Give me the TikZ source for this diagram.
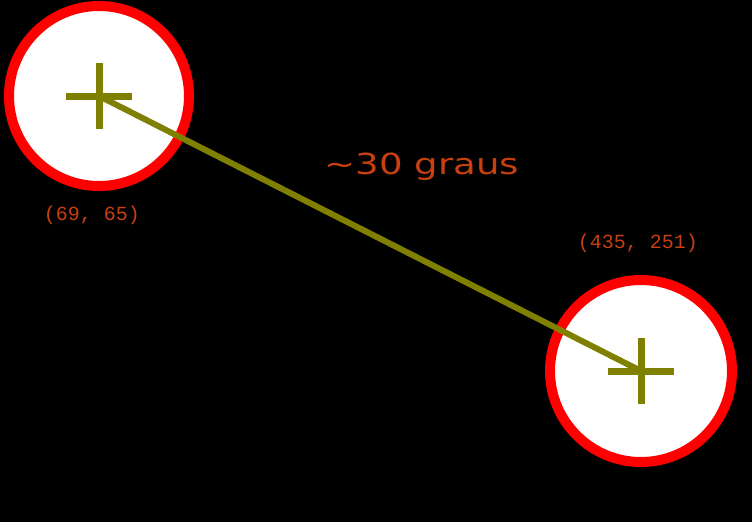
\documentclass[tikz,border=0pt]{standalone}
\usepackage{fontspec}
\setmainfont{DejaVu Sans}
\newfontfamily\coordfont{Liberation Mono}
\newfontfamily\anglefont[FakeStretch=1.28]{DejaVu Sans}
\usetikzlibrary{positioning}
\definecolor{RingRed}{RGB}{255,0,0}
\definecolor{Olive}{RGB}{128,128,0}
\definecolor{LabelRust}{RGB}{200,64,16}

\begin{document}
\begin{tikzpicture}[
  x=1pt, y=-1pt,
  blob/.style={circle,draw=RingRed,fill=white,line width=10pt,
               minimum size=180pt,inner sep=0pt},
  link/.style={draw=Olive,line width=6pt},
  crossarm/.style={draw=Olive,line width=7pt},
  coordlabel/.style={font=\coordfont\fontsize{20}{20}\selectfont,
                     text=LabelRust,inner sep=0pt},
  anglelabel/.style={font=\anglefont\fontsize{29}{29}\selectfont,text=LabelRust,
                     inner sep=0pt}]

\fill[black] (0,0) rectangle (752,522);
\useasboundingbox (0,0) rectangle (752,522);

\node[blob] (a) at (99,96) {};
\node[blob,minimum size=182pt] (b) at (641,371) {};

\draw[link] (a.center) -- (b.center);

\draw[crossarm] ([xshift=-33pt]a.center) -- ([xshift=33pt]a.center);
\draw[crossarm] ([yshift=-33pt]a.center) -- ([yshift=33pt]a.center);
\draw[crossarm] ([xshift=-33pt]b.center) -- ([xshift=33pt]b.center);
\draw[crossarm] ([yshift=-33pt]b.center) -- ([yshift=33pt]b.center);

\node[coordlabel] (la) at (92,215) {(69, 65)};
\node[coordlabel] (lb) at (638,243) {(435, 251)};
\node[anglelabel] (ang) at (422,167) {\char"007E 30 graus};
\end{tikzpicture}
\end{document}
